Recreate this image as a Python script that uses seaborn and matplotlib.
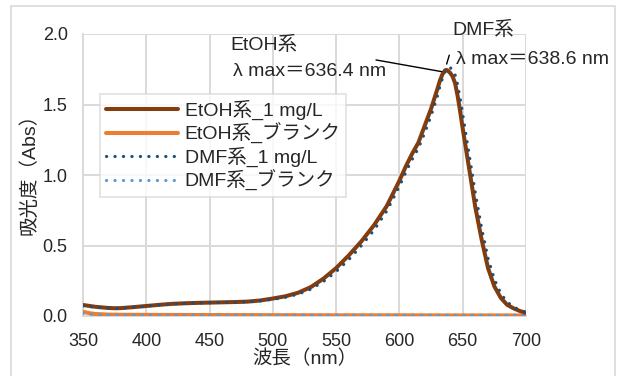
import numpy as np
import pandas as pd
import matplotlib
matplotlib.use("Agg")
import matplotlib.pyplot as plt
import seaborn as sns
from matplotlib.patches import Rectangle
from matplotlib.lines import Line2D

# ---- data ----
etoh_wl = [350, 360, 370, 375, 380, 390, 400, 410, 420, 430, 440, 450, 460, 470, 480, 490,
           500, 510, 520, 530, 540, 550, 560, 570, 580, 590, 600, 605, 610, 615, 620, 625,
           630, 632, 634, 636, 637, 638, 640, 642, 644, 646, 648, 650, 655, 660, 665, 670,
           675, 680, 685, 690, 695, 700]
etoh_abs = [0.078, 0.065, 0.057, 0.055, 0.056, 0.063, 0.071, 0.079, 0.086, 0.090, 0.093, 0.095,
            0.097, 0.099, 0.102, 0.110, 0.124, 0.140, 0.165, 0.205, 0.265, 0.340, 0.430, 0.530,
            0.645, 0.780, 0.960, 1.060, 1.150, 1.230, 1.350, 1.470, 1.610, 1.670, 1.715, 1.742,
            1.745, 1.742, 1.725, 1.700, 1.650, 1.560, 1.450, 1.330, 1.050, 0.770, 0.540, 0.340,
            0.210, 0.130, 0.080, 0.055, 0.036, 0.022]

dmf_wl = [350, 360, 370, 375, 380, 390, 400, 410, 420, 430, 440, 450, 460, 470, 480, 490,
          500, 510, 520, 530, 540, 550, 560, 570, 580, 590, 600, 605, 610, 615, 620, 625,
          630, 632, 634, 636, 638, 639, 640, 642, 644, 646, 648, 650, 655, 660, 665, 670,
          675, 680, 685, 690, 695, 700]
dmf_abs = [0.072, 0.062, 0.056, 0.054, 0.055, 0.062, 0.070, 0.078, 0.085, 0.089, 0.092, 0.094,
           0.096, 0.098, 0.100, 0.107, 0.118, 0.133, 0.155, 0.190, 0.245, 0.315, 0.400, 0.500,
           0.610, 0.745, 0.920, 1.020, 1.110, 1.190, 1.300, 1.420, 1.560, 1.630, 1.685, 1.730,
           1.760, 1.765, 1.762, 1.745, 1.710, 1.640, 1.540, 1.430, 1.150, 0.870, 0.620, 0.410,
           0.260, 0.160, 0.100, 0.065, 0.042, 0.026]

blank_wl = [350, 355, 360, 370, 380, 400, 450, 500, 550, 600, 650, 700]
etoh_blank = [0.030, 0.020, 0.014, 0.010, 0.009, 0.008, 0.007, 0.006, 0.005, 0.005, 0.004, 0.004]
dmf_blank = [0.018, 0.013, 0.010, 0.008, 0.007, 0.006, 0.005, 0.005, 0.005, 0.005, 0.005, 0.005]

labels = ["EtOH系_1 mg/L", "EtOH系_ブランク", "DMF系_1 mg/L", "DMF系_ブランク"]
x_ticks = [350, 400, 450, 500, 550, 600, 650, 700]
y_ticks = [0.0, 0.5, 1.0, 1.5, 2.0]

sns.set_theme(style="white")
plt.rcParams['font.family'] = ['Liberation Sans', 'Noto Sans CJK JP', 'DejaVu Sans']
FS_T = 13
FS = 14

fig = plt.figure(figsize=(6.19, 3.76), dpi=100)
ax = fig.add_axes([83/619, 1-316/376, 443/619, 282/376])

# outer chart border
fig.patches.append(Rectangle((11/619, -0.02), (615-11)/619, 1-6/376+0.02,
                             transform=fig.transFigure, fill=False,
                             edgecolor="#d9d9d9", linewidth=1.2, zorder=0))

grid_c = "#d9d9d9"
c_brown = "#843C0C"
c_orange = "#ED7D31"
c_dblue = "#1F4E79"
c_lblue = "#5B9BD5"

df_e = pd.DataFrame({"wl": etoh_wl, "A": etoh_abs})
df_d = pd.DataFrame({"wl": dmf_wl, "A": dmf_abs})
df_be = pd.DataFrame({"wl": blank_wl, "A": etoh_blank})
df_bd = pd.DataFrame({"wl": blank_wl, "A": dmf_blank})

dot = (0, (0.05, 2.6))
sns.lineplot(data=df_be, x="wl", y="A", ax=ax, color=c_orange, linewidth=2.9, zorder=3)
sns.lineplot(data=df_bd, x="wl", y="A", ax=ax, color=c_lblue, linewidth=2.3, zorder=4,
             linestyle=dot, dash_capstyle="round")
sns.lineplot(data=df_e, x="wl", y="A", ax=ax, color=c_brown, linewidth=2.9, zorder=5)
sns.lineplot(data=df_d, x="wl", y="A", ax=ax, color=c_dblue, linewidth=2.3, zorder=6,
             linestyle=dot, dash_capstyle="round")

ax.set_xlim(350, 700)
ax.set_ylim(0, 2.0)
ax.set_xticks(x_ticks)
ax.set_yticks(y_ticks)
ax.set_xticklabels([str(t) for t in x_ticks], fontsize=FS_T)
ax.set_yticklabels([f"{t:.1f}" for t in y_ticks], fontsize=FS_T)
ax.tick_params(axis="x", length=0, pad=12)
ax.tick_params(axis="y", length=0, pad=11)
ax.grid(True, color=grid_c, linewidth=1.4)
ax.set_axisbelow(True)
for s in ["top", "right"]:
    ax.spines[s].set_visible(False)
for s in ["left", "bottom"]:
    ax.spines[s].set_color(grid_c)
    ax.spines[s].set_linewidth(1.4)
ax.set_xlabel("波長（nm）", fontsize=FS, labelpad=0)
ax.set_ylabel("吸光度（Abs）", fontsize=FS)
ax.yaxis.set_label_coords(-0.10, 0.52)

handles = [
    Line2D([], [], color=c_brown, linewidth=2.9),
    Line2D([], [], color=c_orange, linewidth=2.9),
    Line2D([], [], color=c_dblue, linewidth=2.3, linestyle=dot, dash_capstyle="round"),
    Line2D([], [], color=c_lblue, linewidth=2.3, linestyle=dot, dash_capstyle="round"),
]
leg = ax.legend(handles, labels, loc="upper left", bbox_to_anchor=(17/443, (316-94)/282),
                borderaxespad=0, fontsize=FS, frameon=True, fancybox=False,
                handlelength=3.7, handletextpad=0.35, labelspacing=0.15, borderpad=0.3)
leg.get_frame().set_edgecolor(grid_c)
leg.get_frame().set_linewidth(1.2)
leg.set_zorder(10)

# annotations
ax.text(493, 1.92, "EtOH系", fontsize=FS, ha="center", va="center")
ax.text(529, 1.735, "λ max＝636.4 nm", fontsize=FS, ha="center", va="center")
ax.plot([581.5, 633.4], [1.816, 1.733], color="black", linewidth=1.0, zorder=7)
ax.text(666.5, 2.03, "DMF系", fontsize=FS, ha="center", va="center", clip_on=False)
ax.plot([637.3, 639.4], [1.787, 1.85], color="black", linewidth=1.0, zorder=7, clip_on=False)
ax.text(645, 1.82, "λ max＝638.6 nm", fontsize=FS, ha="left", va="center", clip_on=False)

fig.savefig("out.png", dpi=100)
